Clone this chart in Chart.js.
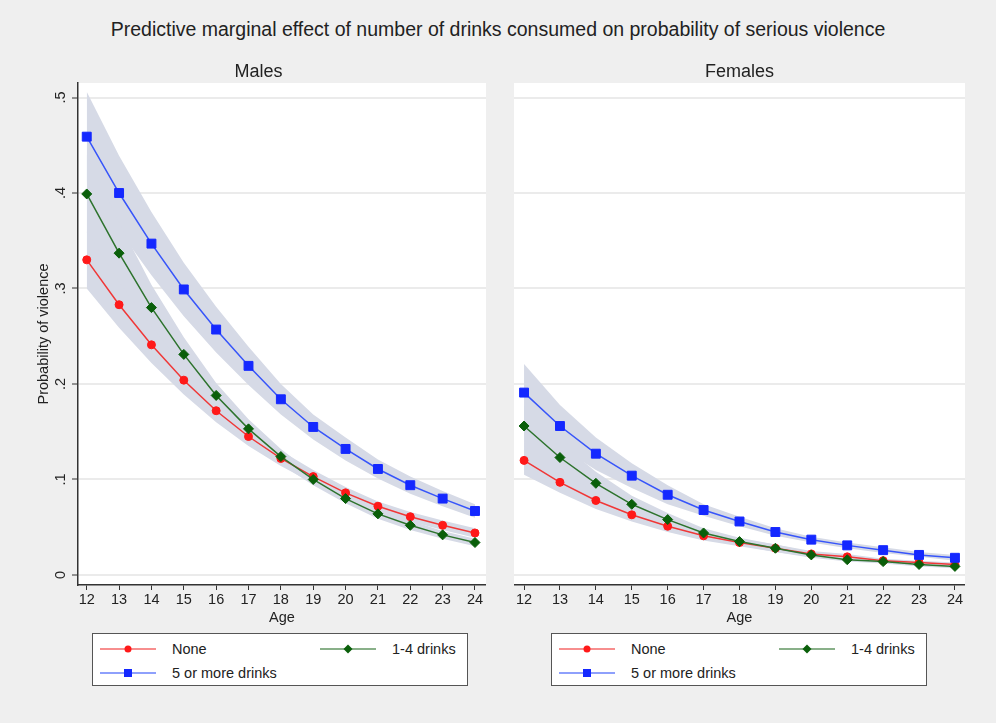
<!DOCTYPE html>
<html>
<head>
<meta charset="utf-8">
<script src="https://cdn.jsdelivr.net/npm/chart.js@4/dist/chart.umd.min.js"></script>
<style>
  html, body { margin: 0; padding: 0; }
  body { width: 996px; height: 723px; background: #efefef; position: relative; overflow: hidden;
         font-family: "Liberation Sans", Arial, sans-serif; color: #222; }
  #title { position: absolute; left: 0; top: 18px; width: 996px; text-align: center; font-size: 19.5px; }
  canvas { position: absolute; }
  .legend { position: absolute; top: 633px; width: 374px; height: 51px; background: #fff; border: 1.5px solid #555; font-size: 14.5px; }
  .legend .item { position: absolute; height: 16px; line-height: 16px; white-space: nowrap; }
  .legend svg { position: absolute; left: 0; top: 0; }
  .legend span { position: absolute; top: 0; }
</style>
</head>
<body>
<div id="title">Predictive marginal effect of number of drinks consumed on probability of serious violence</div>
<canvas id="males" width="486" height="569" style="left:0px;top:61px"></canvas>
<canvas id="females" width="451" height="569" style="left:514px;top:61px"></canvas>
<div class="legend" id="legM" style="left:92px"></div>
<div class="legend" id="legF" style="left:551px"></div>
<script>
// ages on the x axis
const ages = [12, 13, 14, 15, 16, 17, 18, 19, 20, 21, 22, 23, 24];
const yTicks = [0, 0.1, 0.2, 0.3, 0.4, 0.5];
const yTickLabels = ['0', '.1', '.2', '.3', '.4', '.5'];
const seriesNames = ['None', '1-4 drinks', '5 or more drinks'];

// Males
const maleNone   = [0.330, 0.283, 0.241, 0.204, 0.172, 0.145, 0.122, 0.103, 0.086, 0.072, 0.061, 0.052, 0.044];
const maleNoneLo = [0.300, 0.259, 0.222, 0.189, 0.160, 0.135, 0.114, 0.096, 0.080, 0.067, 0.056, 0.047, 0.039];
const maleNoneHi = [0.360, 0.307, 0.260, 0.219, 0.184, 0.155, 0.130, 0.110, 0.092, 0.077, 0.066, 0.057, 0.049];
const maleLow    = [0.399, 0.337, 0.280, 0.231, 0.188, 0.153, 0.124, 0.100, 0.080, 0.064, 0.052, 0.042, 0.034];
const maleLowLo  = [0.358, 0.305, 0.256, 0.213, 0.175, 0.143, 0.116, 0.094, 0.075, 0.059, 0.047, 0.038, 0.030];
const maleLowHi  = [0.440, 0.369, 0.304, 0.249, 0.201, 0.163, 0.132, 0.106, 0.085, 0.069, 0.057, 0.046, 0.038];
const maleHigh   = [0.459, 0.400, 0.347, 0.299, 0.257, 0.219, 0.184, 0.155, 0.132, 0.111, 0.094, 0.080, 0.067];
const maleHighLo = [0.412, 0.361, 0.314, 0.271, 0.233, 0.199, 0.168, 0.142, 0.120, 0.101, 0.085, 0.072, 0.060];
const maleHighHi = [0.506, 0.439, 0.380, 0.327, 0.281, 0.239, 0.200, 0.168, 0.144, 0.121, 0.103, 0.088, 0.074];

// Females
const femNone   = [0.120, 0.097, 0.078, 0.063, 0.051, 0.041, 0.034, 0.028, 0.022, 0.019, 0.015, 0.013, 0.011];
const femNoneLo = [0.105, 0.086, 0.069, 0.056, 0.045, 0.036, 0.030, 0.024, 0.019, 0.016, 0.013, 0.011, 0.009];
const femNoneHi = [0.135, 0.108, 0.087, 0.070, 0.057, 0.046, 0.038, 0.032, 0.025, 0.022, 0.017, 0.015, 0.013];
const femLow    = [0.156, 0.123, 0.096, 0.074, 0.058, 0.044, 0.035, 0.028, 0.021, 0.016, 0.014, 0.011, 0.009];
const femLowLo  = [0.134, 0.107, 0.084, 0.065, 0.051, 0.039, 0.031, 0.024, 0.018, 0.014, 0.012, 0.009, 0.007];
const femLowHi  = [0.178, 0.139, 0.108, 0.083, 0.065, 0.049, 0.039, 0.032, 0.024, 0.018, 0.016, 0.013, 0.011];
const femHigh   = [0.191, 0.156, 0.127, 0.104, 0.084, 0.068, 0.056, 0.045, 0.037, 0.031, 0.026, 0.021, 0.018];
const femHighLo = [0.161, 0.134, 0.110, 0.091, 0.074, 0.062, 0.051, 0.041, 0.034, 0.028, 0.023, 0.019, 0.015];
const femHighHi = [0.221, 0.178, 0.144, 0.117, 0.094, 0.074, 0.061, 0.049, 0.040, 0.034, 0.029, 0.024, 0.021];

const bandColor = 'rgb(214,218,230)';
const styles = [
  { line: 'rgb(240,55,55)', point: 'rgb(255,25,25)', shape: 'circle', r: 4 },
  { line: 'rgb(45,115,45)', point: 'rgb(10,95,10)', shape: 'rectRot', r: 5 },
  { line: 'rgb(55,85,250)', point: 'rgb(20,40,255)', shape: 'rect', r: 6.3 }
];

const pts = arr => arr.map((v, i) => ({ x: ages[i], y: v }));

function buildDatasets(groups) {
  const ds = [];
  // bands first (drawn underneath, see filler drawTime)
  groups.forEach(g => {
    ds.push({ data: pts(g.hi), fill: '+1', backgroundColor: bandColor, borderWidth: 0, pointRadius: 0, order: 10 });
    ds.push({ data: pts(g.lo), fill: false, borderWidth: 0, pointRadius: 0, order: 10 });
  });
  groups.forEach((g, i) => {
    const s = styles[i];
    ds.push({
      label: seriesNames[i], data: pts(g.mid), borderColor: s.line, borderWidth: 1.5,
      pointStyle: s.shape, pointRadius: s.r, pointBackgroundColor: s.point, pointBorderColor: s.point,
      pointBorderWidth: 1, fill: false, order: 3 - i
    });
  });
  return ds;
}

const plotBg = {
  id: 'plotBg',
  beforeDraw(chart) {
    const a = chart.chartArea, ctx = chart.ctx;
    ctx.save();
    ctx.fillStyle = '#fff';
    ctx.fillRect(a.left, a.top, a.right - a.left, a.bottom - a.top);
    ctx.restore();
  }
};

function makePanel(id, title, groups, xMin, xMax, showY) {
  const yScale = {
    min: -0.0105, max: 0.5152,
    afterBuildTicks: ax => { ax.ticks = yTicks.map(v => ({ value: v })); },
    grid: { color: '#ebebeb', lineWidth: 2, tickLength: 6, tickColor: '#333', tickWidth: 1, drawTicks: showY },
    border: { display: showY, color: '#333', width: 1.5 },
    ticks: {
      display: showY, minRotation: 90, maxRotation: 90, crossAlign: 'center', padding: 5,
      color: '#222', font: { size: 14.5 }, callback: (v, i) => yTickLabels[i]
    },
    title: { display: showY, text: 'Probability of violence', color: '#222', font: { size: 14.5 }, padding: { top: 4, bottom: 0 } },
    afterFit: ax => { ax.width = showY ? 47 : 0; }
  };
  return new Chart(document.getElementById(id), {
    type: 'line',
    data: { datasets: buildDatasets(groups) },
    plugins: [plotBg],
    options: {
      responsive: false,
      animation: false,
      layout: { autoPadding: false, padding: { left: showY ? 31 : 0, right: 0, top: 0, bottom: 0 } },
      plugins: {
        legend: { display: false },
        tooltip: { enabled: false },
        filler: { drawTime: 'beforeDatasetsDraw' },
        title: { display: true, text: title, color: '#222', font: { size: 18, weight: 'normal' }, padding: { top: 0, bottom: 0.4 } }
      },
      scales: {
        x: {
          type: 'linear', min: xMin, max: xMax,
          afterBuildTicks: ax => { ax.ticks = ages.map(v => ({ value: v })); },
          afterFit: ax => { ax.height = 45; },
          grid: { drawOnChartArea: false, tickLength: 5, tickColor: '#333', tickWidth: 1 },
          border: { display: true, color: '#333', width: 1.5 },
          ticks: { color: '#222', font: { size: 14.5 }, padding: 1, maxRotation: 0, autoSkip: false },
          title: { display: true, text: 'Age', color: '#222', font: { size: 14.5 }, padding: { top: 0, bottom: 3 } }
        },
        y: yScale
      }
    }
  });
}

Chart.defaults.font.family = '"Liberation Sans", Arial, sans-serif';

makePanel('males', 'Males', [
  { mid: maleNone, lo: maleNoneLo, hi: maleNoneHi },
  { mid: maleLow, lo: maleLowLo, hi: maleLowHi },
  { mid: maleHigh, lo: maleHighLo, hi: maleHighHi }
], 11.73, 24.34, true);

makePanel('females', 'Females', [
  { mid: femNone, lo: femNoneLo, hi: femNoneHi },
  { mid: femLow, lo: femLowLo, hi: femLowHi },
  { mid: femHigh, lo: femHighLo, hi: femHighHi }
], 11.72, 24.28, false);

// legend boxes (two columns, like the original)
function legendSymbol(s) {
  let mark;
  if (s.shape === 'circle') mark = '<circle cx="28" cy="8" r="3.5" fill="' + s.point + '"/>';
  else if (s.shape === 'rectRot') mark = '<polygon points="28,3.5 32.5,8 28,12.5 23.5,8" fill="' + s.point + '"/>';
  else mark = '<rect x="24" y="4" width="8" height="8" fill="' + s.point + '"/>';
  return '<svg width="56" height="16"><line x1="0" y1="8" x2="56" y2="8" stroke="' + s.line +
    '" stroke-opacity="0.75" stroke-width="1.5"/>' + mark + '</svg>';
}
const legendPos = [[7, 7], [227, 7], [7, 31]];
['legM', 'legF'].forEach(id => {
  const box = document.getElementById(id);
  seriesNames.forEach((name, i) => {
    const it = document.createElement('div');
    it.className = 'item';
    it.style.left = legendPos[i][0] + 'px';
    it.style.top = legendPos[i][1] + 'px';
    it.innerHTML = legendSymbol(styles[i]) + '<span style="left:72px">' + name + '</span>';
    box.appendChild(it);
  });
});
</script>
</body>
</html>
